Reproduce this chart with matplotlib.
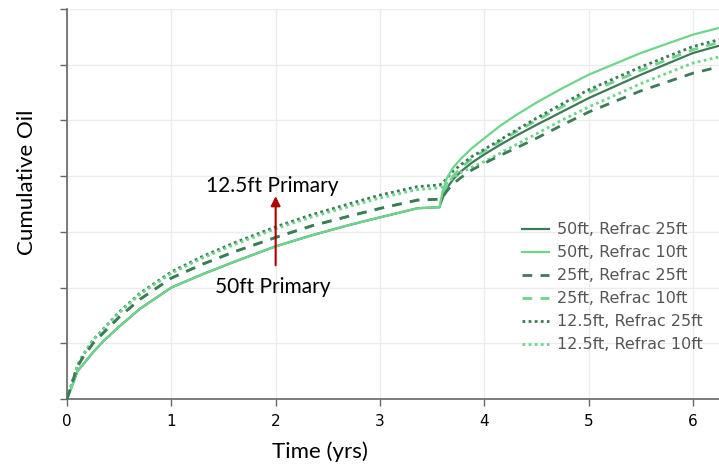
import numpy as np
import matplotlib.pyplot as plt

# colores
dark = '#3d7a55'
light = '#6dd58c'

# primaria (antes del refrac) - tiempo en años
t_pri = [0, 0.05, 0.1, 0.15, 0.25, 0.35, 0.5, 0.7, 1.0, 1.3, 1.6, 2.0, 2.35, 2.7, 3.0, 3.36, 3.57]
pri_50 = [0, 12, 25, 30.5, 42, 52, 65, 81, 100, 112, 123, 137, 147, 156, 163, 171.2, 172.1]
pri_25 = [0, 14.5, 29, 37, 50, 59.5, 73.5, 89.5, 108.5, 121, 132, 145, 155.5, 164, 171, 178.5, 179.3]
pri_125_r25 = [0, 15, 30, 39, 53, 63, 78, 95, 114, 128, 140, 154.5, 165.5, 175, 183, 190.6, 192.1]
pri_125_r10 = [0, 15, 30, 39, 53, 62.5, 77.3, 94, 112.8, 126.6, 138.4, 152.8, 163.5, 172.6, 180.4, 188, 189.4]

# despues del refrac
t_post = [3.6, 3.64, 3.7, 3.78, 3.88, 4.0, 4.15, 4.3, 4.5, 4.75, 5.0, 5.5, 6.0, 6.25]
v_50_r25 = [180, 189, 197, 204.5, 212, 219.5, 228, 236, 246, 258, 270, 291, 310.5, 317]
v_50_r10 = [186, 198, 207.5, 216, 225, 234, 245, 254.5, 266, 279, 291, 310.5, 327, 333]
v_25_r25 = [181, 186.5, 193, 199, 205.5, 211.5, 218.5, 225, 234, 246, 257.5, 276.5, 292.4, 298]
v_25_r10 = [184, 191, 200, 208, 215.5, 222.5, 231, 239.5, 250, 262.5, 275, 295, 313.5, 320]
v_125_r25 = [193.5, 198, 204.5, 210.5, 217.5, 224, 232.5, 241, 252, 265, 277.5, 298, 316.3, 322.5]
v_125_r10 = [190.5, 193.5, 198.5, 203.5, 208, 213, 220.5, 228, 238, 250.5, 262, 283, 301.5, 307]

labels = ['50ft, Refrac 25ft', '50ft, Refrac 10ft', '25ft, Refrac 25ft',
          '25ft, Refrac 10ft', '12.5ft, Refrac 25ft', '12.5ft, Refrac 10ft']

x_ticks = [0, 1, 2, 3, 4, 5, 6]
y_ticks = [0, 50, 100, 150, 200, 250, 300, 350]

dash = (0, (3.5, 3))
dots = (0, (1, 1.2))
series = [
    (pri_50, v_50_r25, dark, '-', 1.6, 2),
    (pri_50, v_50_r10, light, '-', 1.6, 3),
    (pri_25, v_25_r25, dark, dash, 2.0, 3),
    (pri_25, v_25_r10, light, dash, 2.0, 2),
    (pri_125_r25, v_125_r25, dark, dots, 2.0, 2),
    (pri_125_r10, v_125_r10, light, dots, 2.0, 2),
]

fig = plt.figure(figsize=(7.19, 4.68), dpi=100)
ax = fig.add_axes([67/719, 69/468, 652/719, 390/468])

for (pri, vp, col, ls, lw, z), lab in zip(series, labels):
    t = t_pri + t_post
    v = pri + vp
    ax.plot(t, v, color=col, linestyle=ls, linewidth=lw, label=lab, zorder=z)

ax.set_xlim(0, 6.25)
ax.set_ylim(0, 350)
ax.set_xticks(x_ticks)
ax.set_yticks(y_ticks)
ax.set_yticklabels([])
ax.grid(True, color='#ececec', linewidth=1)
ax.set_axisbelow(True)

for s in ['top', 'right']:
    ax.spines[s].set_visible(False)
for s in ['left', 'bottom']:
    ax.spines[s].set_color('#666666')
    ax.spines[s].set_linewidth(1.2)
ax.tick_params(axis='both', color='#666666', length=5, width=1)
ax.tick_params(axis='x', labelsize=11, pad=6)

ax.set_xlabel('Time (yrs)', fontsize=16, family='Lato')
ax.set_ylabel('Cumulative Oil', fontsize=16, family='Lato')
ax.xaxis.set_label_coords(0.388, -0.11)
ax.yaxis.set_label_coords(-0.046, 0.555)

# flecha y textos
ax.annotate('', xy=(2.0, 182), xytext=(2.0, 120),
            arrowprops=dict(arrowstyle='-|>', color='#b00000', lw=1.5,
                            mutation_scale=14, shrinkA=0, shrinkB=0))
ax.text(1.97, 191, '12.5ft Primary', fontsize=15, family='Lato',
        ha='center', va='center')
ax.text(1.97, 100.5, '50ft Primary', fontsize=15, family='Lato',
        ha='center', va='center')

leg = ax.legend(loc='upper left', bbox_to_anchor=(0.676, 0.49), frameon=False,
                fontsize=11.5, handlelength=1.7, handletextpad=0.5,
                labelspacing=0.5)
for txt in leg.get_texts():
    txt.set_color('#555555')

fig.savefig('out.png', dpi=100)
